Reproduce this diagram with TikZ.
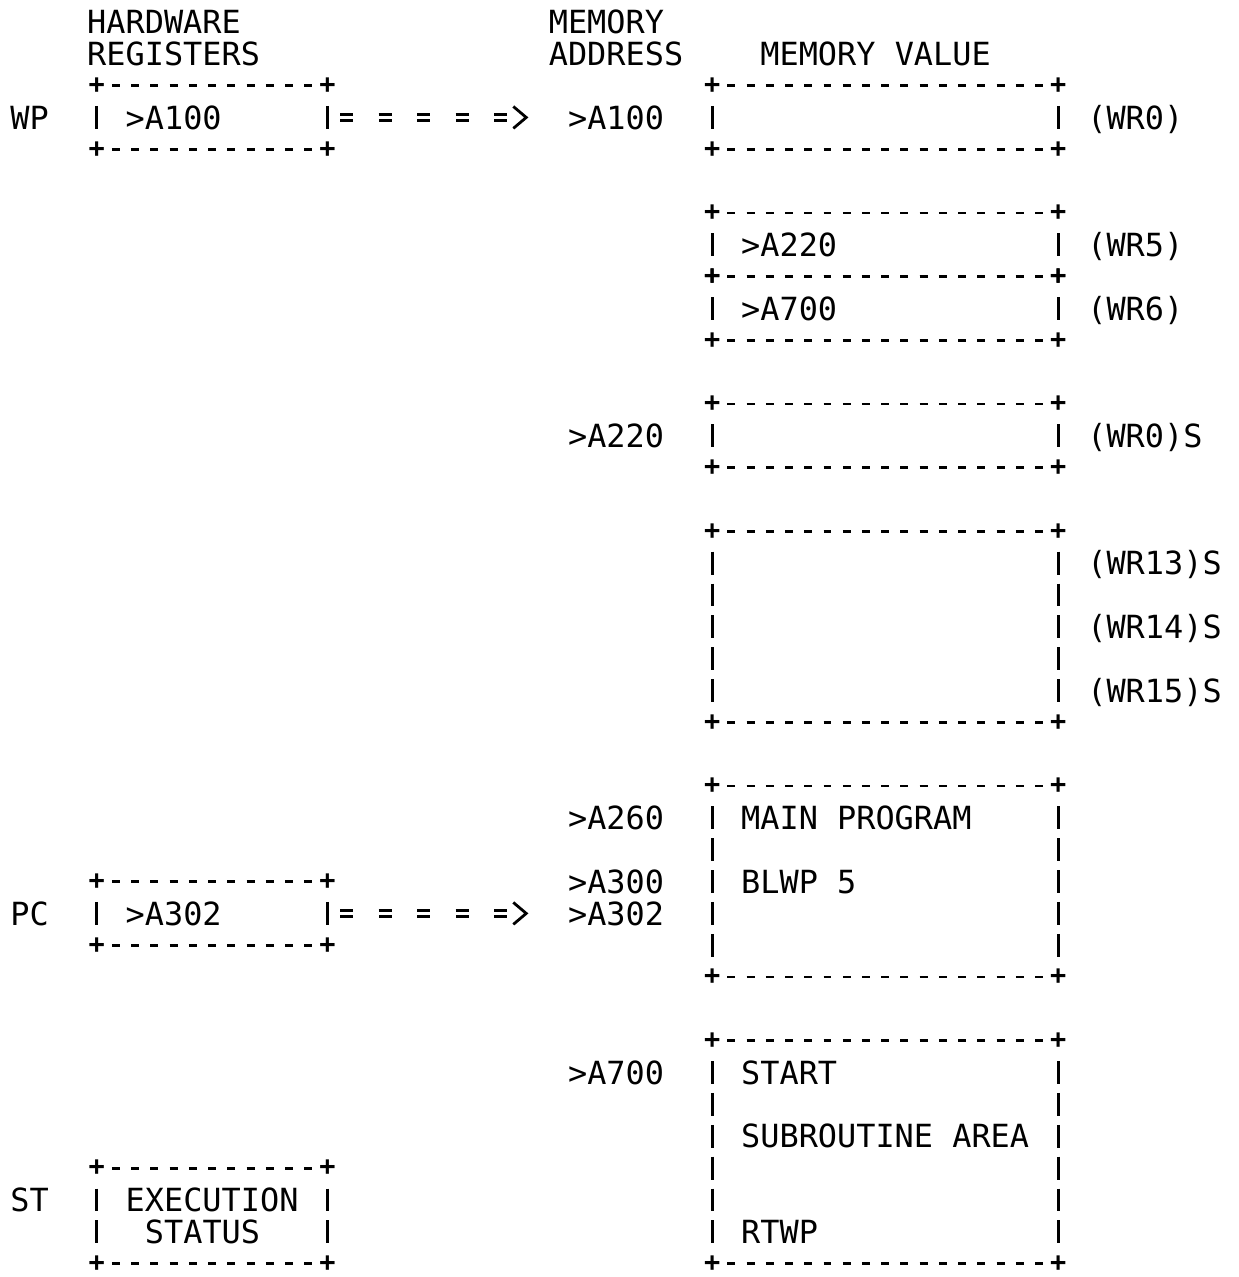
\documentclass[tikz,border=0pt]{standalone}
\usepackage{fontspec}
\newfontfamily\typewriter{DejaVu Sans Mono}
\usetikzlibrary{positioning, fit, decorations.markings}

\begin{document}
\begin{tikzpicture}[
    x=19.3pt, y=-31.95pt,
    every node/.style={font=\typewriter\fontsize{32}{38}\selectfont},
    txt/.style={anchor=west, inner sep=0pt, xshift=-9.65pt, text height=23.4pt, text depth=0pt},
    plus/.style={inner sep=0pt, font=\typewriter\bfseries\fontsize{27}{30}\selectfont},
    hrule/.style={draw=none, postaction={draw, line width=2.8pt, dash pattern=on 8pt off 11.3pt, shorten <=15.3pt, shorten >=15.3pt}},
    vrule/.style={draw=none, postaction={draw, line width=3pt, dash pattern=on 23pt off 8.95pt, shorten <=20.45pt, shorten >=20.45pt}},
    asciibox/.style={inner sep=0pt, outer sep=0pt,
        append after command={
            (\tikzlastnode.north west) edge[hrule] node[pos=0, plus] {+} node[pos=1, plus] {+} (\tikzlastnode.north east)
            (\tikzlastnode.south west) edge[hrule] node[pos=0, plus] {+} node[pos=1, plus] {+} (\tikzlastnode.south east)
            (\tikzlastnode.north west) edge[vrule] (\tikzlastnode.south west)
            (\tikzlastnode.north east) edge[vrule] (\tikzlastnode.south east)}},
    eqline/.style={draw=none,
        postaction={draw, line width=3pt, double=white, double distance=3pt, dash pattern=on 13pt off 25.6pt, shorten <=12.8pt, shorten >=61.05pt},
        postaction={decorate, decoration={markings, mark=at position 193pt with {\draw[line width=2.8pt] (-6.5pt,11pt) -- (6.5pt,0pt) -- (-6.5pt,-11pt);}}}}
]
\useasboundingbox (-1.026,-0.689) rectangle (63.378,39.42);

% Headings
\node[txt] (hwhead) at (4,0) {HARDWARE};
\node[txt] (reghead) at (4,1) {REGISTERS};
\node[txt] (memhead) at (28,0) {MEMORY};
\node[txt] (addrhead) at (28,1) {ADDRESS};
\node[txt] (valhead) at (39,1) {MEMORY VALUE};

% Hardware registers
\node[txt] (wplabel) at (0,3) {WP};
\node[asciibox, fit={(4,2) (16,4)}] (wpreg) {};
\node[txt] (wpval) at (6,3) {>A100};

\node[txt] (pclabel) at (0,28) {PC};
\node[asciibox, fit={(4,27) (16,29)}] (pcreg) {};
\node[txt] (pcval) at (6,28) {>A302};

\node[txt] (stlabel) at (0,37) {ST};
\node[asciibox, fit={(4,36) (16,39)}] (streg) {};
\node[txt] (stval) at (6,37) {EXECUTION};
\node[txt] (stvaltwo) at (7,38) {STATUS};

% Memory addresses
\node[txt] (wpaddr) at (29,3) {>A100};
\node[txt] (wsaddr) at (29,13) {>A220};
\node[txt] (mainaddr) at (29,25) {>A260};
\node[txt] (blwpaddr) at (29,27) {>A300};
\node[txt] (pcaddr) at (29,28) {>A302};
\node[txt] (subaddr) at (29,33) {>A700};

% Workspaces
\node[asciibox, fit={(36,2) (54,4)}] (wsone) {};
\node[txt] (wrzero) at (56,3) {(WR0)};

\node[asciibox, fit={(36,6) (54,8)}] (wsfive) {};
\node[txt] (wsfiveval) at (38,7) {>A220};
\node[txt] (wrfive) at (56,7) {(WR5)};
\node[asciibox, fit={(36,8) (54,10)}] (wssix) {};
\node[txt] (wssixval) at (38,9) {>A700};
\node[txt] (wrsix) at (56,9) {(WR6)};

\node[asciibox, fit={(36,12) (54,14)}] (wszero) {};
\node[txt] (wrzeros) at (56,13) {(WR0)S};

\node[asciibox, fit={(36,16) (54,22)}] (wsupper) {};
\node[txt] (wrthirteen) at (56,17) {(WR13)S};
\node[txt] (wrfourteen) at (56,19) {(WR14)S};
\node[txt] (wrfifteen) at (56,21) {(WR15)S};

% Program areas
\node[asciibox, fit={(36,24) (54,30)}] (mainprog) {};
\node[txt] (mainval) at (38,25) {MAIN PROGRAM};
\node[txt] (blwpval) at (38,27) {BLWP 5};

\node[asciibox, fit={(36,32) (54,39)}] (subr) {};
\node[txt] (startval) at (38,33) {START};
\node[txt] (subval) at (38,35) {SUBROUTINE AREA};
\node[txt] (rtwpval) at (38,38) {RTWP};

% Pointers
\draw[eqline] (wpreg.east) -- (wpaddr.west);
\draw[eqline] (pcreg.east) -- (pcaddr.west);

\end{tikzpicture}
\end{document}
